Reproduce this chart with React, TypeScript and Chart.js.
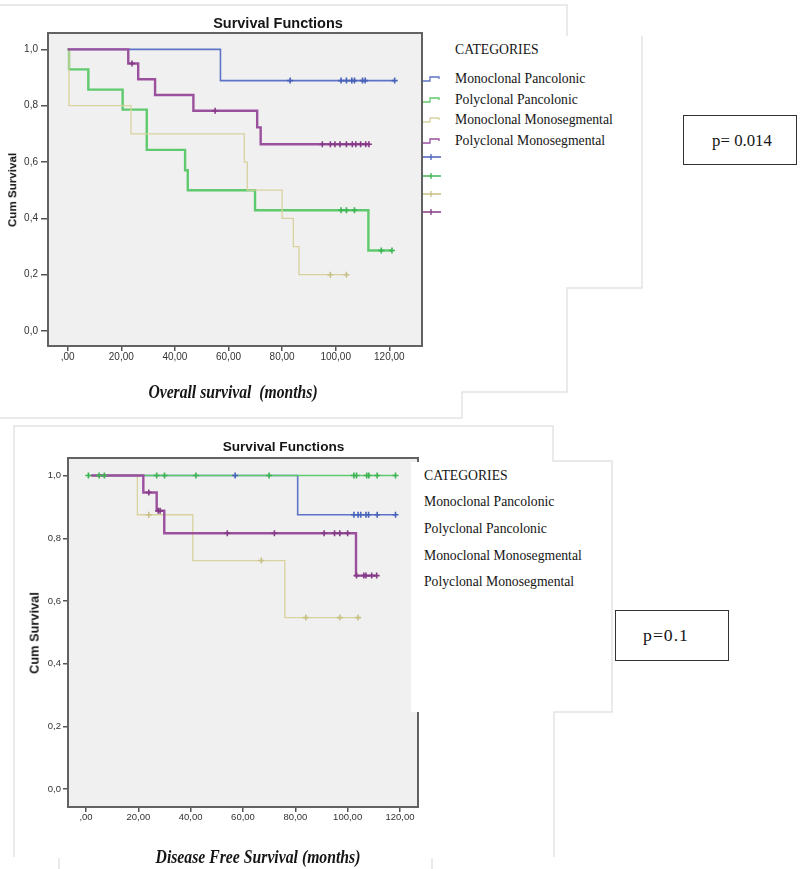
import React, { useEffect, useRef } from "react";
import { Chart, registerables } from "chart.js";
Chart.register(...registerables);

// ---------- shared ----------
const categories = [
  "Monoclonal Pancolonic",
  "Polyclonal Pancolonic",
  "Monoclonal Monosegmental",
  "Polyclonal Monosegmental",
];
const lineColors = ["#5d74c6", "#5fca6d", "#d8d29e", "#9b509d"];
const censorColors = ["#4862ba", "#3db452", "#c8c085", "#853a87"];
const yTickValues = [0, 0.2, 0.4, 0.6, 0.8, 1.0];
const xTickValues = [0, 20, 40, 60, 80, 100, 120];

// ---------- Overall survival (top chart) ----------
const osMonoPanT = [0, 57];
const osMonoPanS = [1, 0.889];
const osMonoPanCens = [83, 102, 104, 106, 107, 110, 111, 122];

const osPolyPanT = [0, 0.5, 7.7, 20.5, 29.5, 43.8, 44.8, 69.9, 112.2];
const osPolyPanS = [1, 0.929, 0.857, 0.786, 0.643, 0.571, 0.5, 0.429, 0.286];
const osPolyPanCens = [102, 104, 107, 117, 121];

const osMonoSegT = [0, 0.5, 23.6, 65.9, 67, 80, 84.2, 86.3];
const osMonoSegS = [1, 0.8, 0.7, 0.6, 0.5, 0.4, 0.3, 0.2];
const osMonoSegCens = [98, 104];

const osPolySegT = [0, 22.6, 26.3, 32.6, 46.9, 70.7, 72];
const osPolySegS = [1, 0.95, 0.894, 0.838, 0.782, 0.723, 0.663];
const osPolySegCens = [24, 55, 95, 98, 99.7, 101.6, 104, 106.2, 107.5, 109.3, 111.2, 112.4];

// ---------- Disease free survival (bottom chart) ----------
const dfsMonoPanT = [2, 80.9];
const dfsMonoPanS = [1, 0.875];
const dfsMonoPanCens = [57, 102.4, 104, 105, 107, 108, 111.3, 118.3];

const dfsPolyPanT = [0.9];
const dfsPolyPanS = [1];
const dfsPolyPanCens = [0.9, 5, 7, 27, 30, 42, 70, 102.4, 103.4, 107.3, 108.1, 111.3, 118.3];

const dfsMonoSegT = [2, 19.6, 40.8, 76];
const dfsMonoSegS = [1, 0.875, 0.729, 0.547];
const dfsMonoSegCens = [24, 67, 84, 97, 104];

const dfsPolySegT = [2, 21.9, 27, 29.9, 103.2];
const dfsPolySegS = [1, 0.946, 0.888, 0.816, 0.681];
const dfsPolySegCens = [24, 27.6, 28.3, 54, 72, 91, 95, 97, 100, 103.4, 106.2, 107, 109.2, 111.1];

type Group = { t: number[]; s: number[]; c: number[] };

const osGroups: Group[] = [
  { t: osMonoPanT, s: osMonoPanS, c: osMonoPanCens },
  { t: osPolyPanT, s: osPolyPanS, c: osPolyPanCens },
  { t: osMonoSegT, s: osMonoSegS, c: osMonoSegCens },
  { t: osPolySegT, s: osPolySegS, c: osPolySegCens },
];
const dfsGroups: Group[] = [
  { t: dfsMonoPanT, s: dfsMonoPanS, c: dfsMonoPanCens },
  { t: dfsPolyPanT, s: dfsPolyPanS, c: dfsPolyPanCens },
  { t: dfsMonoSegT, s: dfsMonoSegS, c: dfsMonoSegCens },
  { t: dfsPolySegT, s: dfsPolySegS, c: dfsPolySegCens },
];

function stepValue(g: Group, x: number) {
  let v = g.s[0];
  for (let i = 0; i < g.t.length; i++) if (g.t[i] <= x) v = g.s[i];
  return v;
}

function buildDatasets(groups: Group[], widths: number[], zRank: number[]) {
  const ds: any[] = [];
  groups.forEach((g, i) => {
    const pts = g.t.map((t, k) => ({ x: t, y: g.s[k] }));
    const lastC = Math.max(...g.c);
    if (lastC > g.t[g.t.length - 1]) pts.push({ x: lastC, y: g.s[g.s.length - 1] });
    ds.push({
      label: categories[i],
      data: pts,
      stepped: true,
      borderColor: lineColors[i],
      borderWidth: widths[i],
      pointRadius: 0,
      fill: false,
      order: 10 + zRank[i],
    });
    ds.push({
      label: categories[i] + " censored",
      data: g.c.map((x) => ({ x, y: stepValue(g, x) })),
      showLine: false,
      pointStyle: "cross",
      pointRadius: 3,
      borderColor: censorColors[i],
      backgroundColor: censorColors[i],
      pointBorderWidth: 1.6,
      order: zRank[i],
    });
  });
  return ds;
}

const framePlugin = {
  id: "spssFrame",
  beforeDatasetsDraw(chart: any) {
    const { ctx, chartArea } = chart;
    const { left, top, right, bottom } = chartArea;
    ctx.save();
    ctx.fillStyle = "#f0f0f0";
    ctx.fillRect(left, top, right - left, bottom - top);
    ctx.restore();
  },
  afterDraw(chart: any) {
    const { ctx, chartArea } = chart;
    const { left, top, right, bottom } = chartArea;
    ctx.save();
    ctx.strokeStyle = "#626262";
    ctx.lineWidth = 2;
    ctx.strokeRect(left, top, right - left, bottom - top);
    ctx.restore();
  },
};

type Cfg = {
  groups: Group[];
  widths: number[];
  zRank: number[];
  w: number;
  h: number;
  padTop: number;
  padRight: number;
  yWidth: number;
  xHeight: number;
  xMin: number;
  xMax: number;
  yMin: number;
  yMax: number;
  yTickLen: number;
  yTickPad: number;
  fontSize: number;
};

function KMChart({ cfg, left, top }: { cfg: Cfg; left: number; top: number }) {
  const ref = useRef<HTMLCanvasElement | null>(null);
  useEffect(() => {
    if (!ref.current) return;
    const font = { family: "'Liberation Sans', Arial, sans-serif", size: cfg.fontSize };
    const chart = new Chart(ref.current, {
      type: "line",
      data: { datasets: buildDatasets(cfg.groups, cfg.widths, cfg.zRank) },
      plugins: [framePlugin],
      options: {
        animation: false,
        responsive: false,
        maintainAspectRatio: false,
        layout: { padding: { top: cfg.padTop, right: cfg.padRight, left: 0, bottom: 0 } },
        plugins: { legend: { display: false }, tooltip: { enabled: false }, title: { display: false } },
        scales: {
          x: {
            type: "linear",
            min: cfg.xMin,
            max: cfg.xMax,
            afterBuildTicks: (s: any) => {
              s.ticks = xTickValues.map((v) => ({ value: v }));
            },
            afterFit: (s: any) => {
              s.height = cfg.xHeight;
            },
            ticks: {
              font,
              color: "#333",
              padding: 0,
              maxRotation: 0,
              autoSkip: false,
              callback: (v: any) => (v === 0 ? ",00" : Number(v).toFixed(2).replace(".", ",")),
            },
            grid: { drawOnChartArea: false, drawTicks: true, tickLength: 5, color: "#555", lineWidth: 1.5 },
            border: { display: false },
          },
          y: {
            type: "linear",
            min: cfg.yMin,
            max: cfg.yMax,
            afterBuildTicks: (s: any) => {
              s.ticks = yTickValues.map((v) => ({ value: v }));
            },
            afterFit: (s: any) => {
              s.width = cfg.yWidth;
            },
            ticks: {
              font,
              color: "#333",
              padding: cfg.yTickPad,
              autoSkip: false,
              callback: (v: any) => Number(v).toFixed(1).replace(".", ","),
            },
            grid: { drawOnChartArea: false, drawTicks: true, tickLength: cfg.yTickLen, color: "#555", lineWidth: 1.5 },
            border: { display: false },
          },
        },
      } as any,
    });
    return () => chart.destroy();
  }, []);
  return (
    <div style={{ position: "absolute", left, top, width: cfg.w, height: cfg.h, zIndex: 1 }}>
      <canvas ref={ref} width={cfg.w} height={cfg.h} style={{ width: cfg.w, height: cfg.h, display: "block" }} />
    </div>
  );
}

const topCfg: Cfg = {
  groups: osGroups,
  widths: [1.6, 2.4, 1.3, 2.4],
  zRank: [3, 2, 1, 0],
  w: 430,
  h: 410,
  padTop: 33,
  padRight: 8,
  yWidth: 48,
  xHeight: 64,
  xMin: -7.35,
  xMax: 132.2,
  yMin: -0.053,
  yMax: 1.058,
  yTickLen: 7,
  yTickPad: 3,
  fontSize: 10,
};

const bottomCfg: Cfg = {
  groups: dfsGroups,
  widths: [1.6, 1.6, 1.3, 2.4],
  zRank: [2, 1, 3, 0],
  w: 430,
  h: 440,
  padTop: 38,
  padRight: 12,
  yWidth: 68,
  xHeight: 53,
  xMin: -6.9,
  xMax: 126.9,
  yMin: -0.057,
  yMax: 1.056,
  yTickLen: 5,
  yTickPad: 2,
  fontSize: 9.5,
};

const serif = "'Liberation Serif', 'Times New Roman', serif";
const sans = "'Liberation Sans', Arial, sans-serif";

function Txt({
  x,
  y,
  children,
  style,
  center,
}: {
  x: number;
  y: number;
  children: any;
  style?: any;
  center?: boolean;
}) {
  return (
    <div
      style={{
        position: "absolute",
        left: x,
        top: y,
        whiteSpace: "nowrap",
        lineHeight: 1,
        transform: center ? "translate(-50%,-50%)" : "translate(0,-50%)",
        color: "#151515",
        zIndex: 3,
        ...style,
      }}
    >
      {children}
    </div>
  );
}

const topLegendRows = [79, 100, 120, 141];
const topLegendCrossRows = [157, 176, 194, 212];
const bottomLegendRows = [502, 529, 556, 582];

export default function App() {
  const legendFont = { fontFamily: serif, fontSize: 13.7 };
  return (
    <div style={{ position: "absolute", left: 0, top: 0, width: 800, height: 869, background: "#fff", overflow: "hidden" }}>
      <KMChart cfg={topCfg} left={0} top={0} />
      <KMChart cfg={bottomCfg} left={0} top={420} />

      {/* white legend panel covering bottom plot edge */}
      <div style={{ position: "absolute", left: 411, top: 462, width: 201, height: 250, background: "#fff", zIndex: 2 }} />

      {/* titles */}
      <Txt x={278} y={23} center style={{ fontFamily: sans, fontWeight: "bold", fontSize: 14.5 }}>
        Survival Functions
      </Txt>
      <Txt x={283.5} y={447} center style={{ fontFamily: sans, fontWeight: "bold", fontSize: 13.6 }}>
        Survival Functions
      </Txt>

      {/* y axis titles */}
      <Txt
        x={12}
        y={190}
        style={{ fontFamily: sans, fontWeight: "bold", fontSize: 11.6, transform: "translate(-50%,-50%) rotate(-90deg)" }}
      >
        Cum Survival
      </Txt>
      <Txt
        x={34.5}
        y={632.5}
        style={{ fontFamily: sans, fontWeight: "bold", fontSize: 12.8, transform: "translate(-50%,-50%) rotate(-90deg)" }}
      >
        Cum Survival
      </Txt>

      {/* x axis titles */}
      <Txt
        x={232.5}
        y={392}
        style={{
          fontFamily: serif,
          fontWeight: "bold",
          fontStyle: "italic",
          fontSize: 18,
          transform: "translate(-50%,-50%) scaleX(0.87)",
        }}
      >
        Overall survival&nbsp; (months)
      </Txt>
      <Txt
        x={257.5}
        y={857}
        style={{
          fontFamily: serif,
          fontWeight: "bold",
          fontStyle: "italic",
          fontSize: 18,
          transform: "translate(-50%,-50%) scaleX(0.874)",
        }}
      >
        Disease Free Survival (months)
      </Txt>

      {/* top legend */}
      <Txt x={455} y={50} style={legendFont}>
        CATEGORIES
      </Txt>
      {categories.map((c, i) => (
        <Txt key={"tl" + i} x={455} y={topLegendRows[i]} style={legendFont}>
          {c}
        </Txt>
      ))}

      {/* bottom legend */}
      <Txt x={424} y={475.5} style={legendFont}>
        CATEGORIES
      </Txt>
      {categories.map((c, i) => (
        <Txt key={"bl" + i} x={424} y={bottomLegendRows[i]} style={legendFont}>
          {c}
        </Txt>
      ))}

      {/* p-value boxes */}
      <div
        style={{
          position: "absolute",
          left: 683,
          top: 115,
          width: 114,
          height: 50,
          border: "1.5px solid #333",
          boxSizing: "border-box",
          zIndex: 3,
        }}
      />
      <Txt x={742} y={141} center style={{ fontFamily: serif, fontSize: 16.8 }}>
        p= 0.014
      </Txt>
      <div
        style={{
          position: "absolute",
          left: 615,
          top: 610,
          width: 114,
          height: 51,
          border: "1.5px solid #333",
          boxSizing: "border-box",
          zIndex: 3,
        }}
      />
      <Txt x={666} y={636} center style={{ fontFamily: serif, fontSize: 17.7, letterSpacing: 1 }}>
        p=0.1
      </Txt>

      {/* frame lines and legend symbols */}
      <svg
        width={800}
        height={869}
        style={{ position: "absolute", left: 0, top: 0, zIndex: 4, pointerEvents: "none" }}
      >
        <g fill="none" stroke="#e3e3e3" strokeWidth={1.5}>
          <polyline points="0,5 567,5 567,36" />
          <polyline points="642,36 642,288 567,288 567,392 462,392 462,418 0,418" />
          <polyline points="14,857 14,426 553,426 553,461 612,461 612,712 554,712 554,857" />
          <polyline points="59,858 59,869" />
          <polyline points="432,858 432,869" />
        </g>
        {topLegendRows.map((y, i) => (
          <path
            key={"ls" + i}
            d={`M423 ${y + 2} H430 V${y - 2} H439 V${y}`}
            fill="none"
            stroke={lineColors[i]}
            strokeWidth={1.3}
          />
        ))}
        {topLegendCrossRows.map((y, i) => (
          <path
            key={"lc" + i}
            d={`M423 ${y} H441 M431 ${y - 3} V${y + 3}`}
            fill="none"
            stroke={censorColors[i]}
            strokeWidth={1.3}
          />
        ))}
      </svg>
    </div>
  );
}
